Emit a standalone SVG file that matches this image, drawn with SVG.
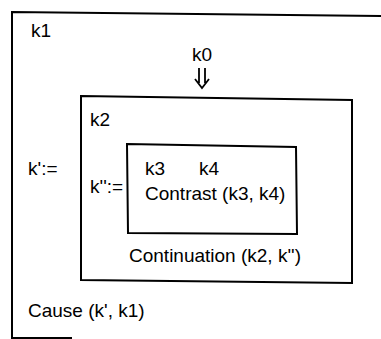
<svg xmlns="http://www.w3.org/2000/svg" width="381" height="339" viewBox="0 0 381 339">
<style>
.box{fill:none;stroke:#000;stroke-width:2;stroke-linejoin:miter}
.t{font-family:"Liberation Sans",Arial,Helvetica,sans-serif;font-size:19px;fill:#000}
.arr{fill:none;stroke:#000;stroke-width:1.8}
</style>
<rect width="381" height="339" fill="#fff"/>
<g id="k1">
<path class="box" d="M381,16 L12,12 L12,338 L72,338"/>
<text class="t" x="31" y="37">k1</text>
<text class="t" x="28" y="175">k':=</text>
<text class="t" x="28" y="317">Cause (k', k1)</text>
</g>
<g id="k0">
<text class="t" x="192" y="61">k0</text>
</g>
<g id="k2">
<path class="box" d="M81,96 L352,100 L352,283 L81,280 Z"/>
<text class="t" x="90" y="126">k2</text>
<text class="t" x="90" y="193">k'':=</text>
<text class="t" x="129" y="262">Continuation (k2, k'')</text>
</g>
<g id="k3">
<path class="box" d="M127,144 L296,147 L297,234 L128,233 Z"/>
<text class="t" x="145" y="175">k3</text>
<text class="t" x="199" y="175">k4</text>
<text class="t" x="145" y="200">Contrast (k3, k4)</text>
</g>
<g id="connectors">
<path class="arr" d="M199,68 V83 M205,68 V83 M195,79 L202,88 L209,79"/>
</g>
</svg>
